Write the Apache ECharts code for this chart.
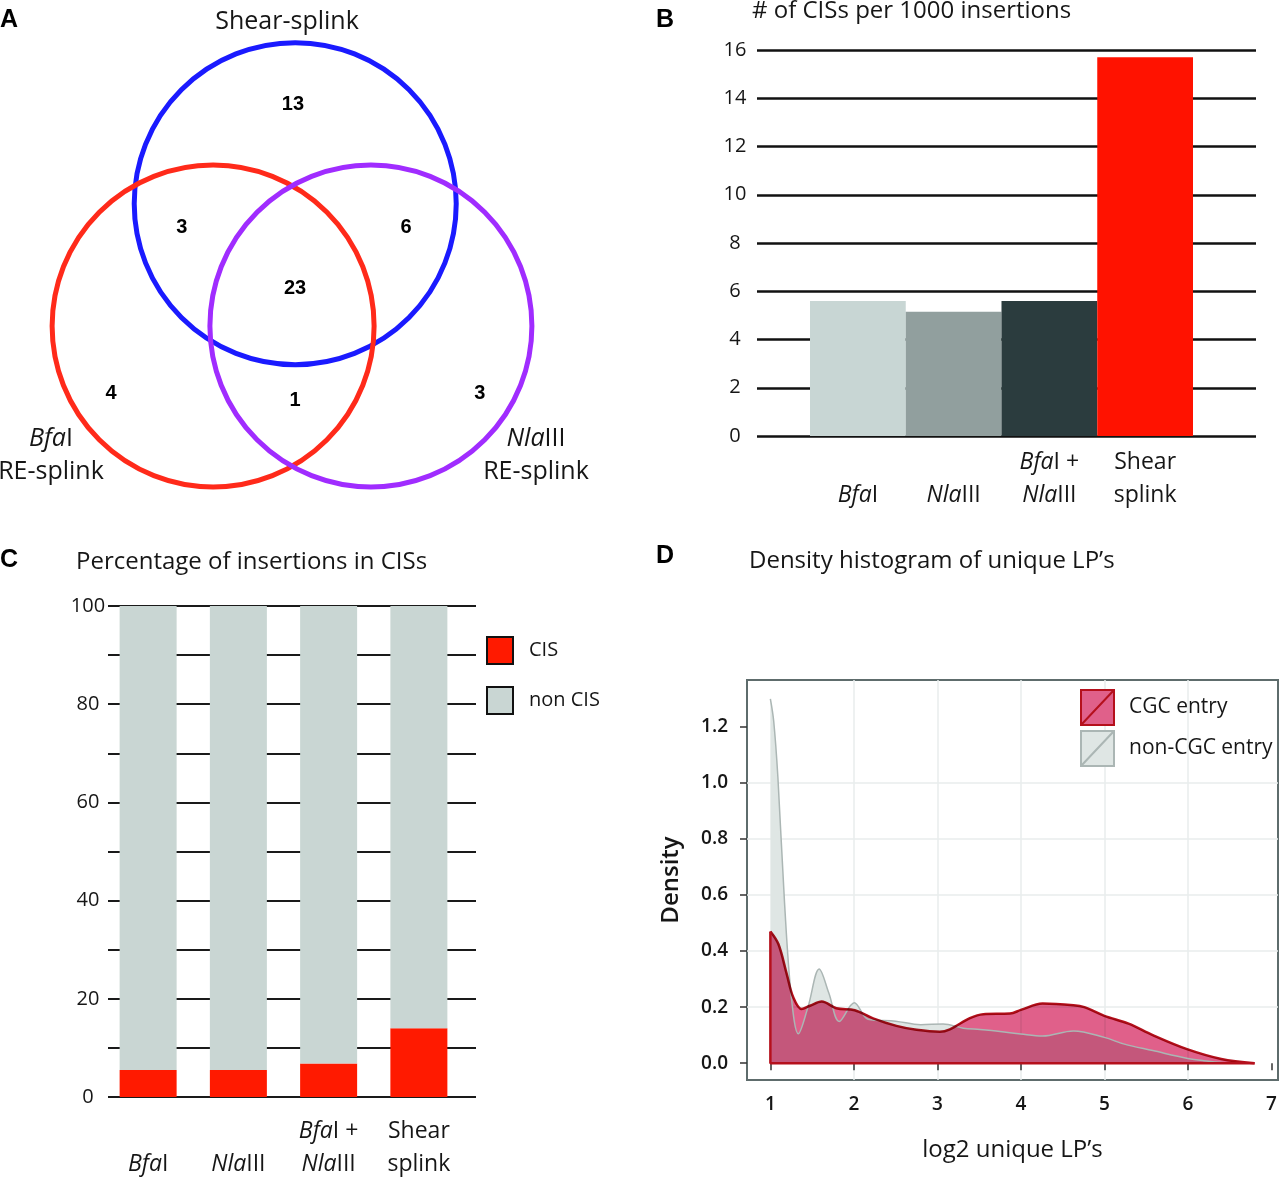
<!DOCTYPE html>
<html>
<head>
<meta charset="utf-8">
<script src="https://cdn.jsdelivr.net/npm/echarts@6/dist/echarts.min.js"></script>
<style>
  html, body { margin: 0; padding: 0; background: #fff; }
  #main { width: 1280px; height: 1183px; }
</style>
</head>
<body>
<div id="main"></div>
<script>
// panel A - venn (abstract units, circle radius = 1)
var vennSets = ['Shear-splink', 'BfaI RE-splink', 'NlaIII RE-splink'];
var vennCenterX = [0.02, -0.49, 0.49];
var vennCenterY = [0.76, 0, 0];
var vennRadius = [1, 1, 1];
var vennCounts = [13, 3, 6, 23, 4, 1, 3];
var vennCountX = [0.006, -0.684, 0.708, 0.019, -1.124, 0.019, 1.167];
var vennCountY = [1.373, 0.609, 0.609, 0.236, -0.422, -0.460, -0.422];

// panels B and C
var methods = ['BfaI', 'NlaIII', 'BfaI + NlaIII', 'Shear splink'];
var methodLabels = ['{i|Bfa}I', '{i|Nla}III', '{i|Bfa}I +\n{i|Nla}III', 'Shear\nsplink'];
var cisPer1000 = [5.6, 5.15, 5.6, 15.7];
var cisPercent = [5.5, 5.5, 6.8, 14.0];
var nonCisPercent = [94.5, 94.5, 93.2, 86.0];

// panel D - density curves [log2 unique LP's, density]
var nonCgcDensity = [
    [1.00, 1.30], [1.04, 1.22], [1.09, 1.02], [1.17, 0.57], [1.25, 0.24],
    [1.335, 0.105], [1.45, 0.20], [1.585, 0.336], [1.70, 0.25], [1.825, 0.149],
    [2.005, 0.216], [2.17, 0.157], [2.50, 0.15], [2.80, 0.137], [3.07, 0.14],
    [3.31, 0.125], [3.51, 0.12], [3.75, 0.113], [4.00, 0.104], [4.26, 0.097],
    [4.63, 0.115], [5.00, 0.092], [5.24, 0.068], [5.58, 0.045], [6.00, 0.017],
    [6.19, 0.009], [6.50, 0.0]
];
var cgcDensity = [
    [1.00, 0.47], [1.096, 0.425], [1.196, 0.318], [1.275, 0.234], [1.375, 0.193],
    [1.475, 0.205], [1.615, 0.22], [1.79, 0.196], [2.01, 0.189], [2.23, 0.16],
    [2.51, 0.133], [2.75, 0.119], [3.03, 0.112], [3.15, 0.121], [3.39, 0.161],
    [3.55, 0.175], [3.87, 0.177], [4.00, 0.19], [4.26, 0.213], [4.63, 0.207],
    [4.76, 0.20], [5.00, 0.169], [5.29, 0.141], [5.58, 0.10], [5.99, 0.05],
    [6.40, 0.015], [6.80, 0.0]
];
var densityXTicks = [1, 2, 3, 4, 5, 6, 7];
var densityYTicks = [0, 0.2, 0.4, 0.6, 0.8, 1.0, 1.2];

var FONT = '"Open Sans", "Noto Sans", sans-serif';
var ARIAL = '"Liberation Sans", Arial, sans-serif';
var INK = '#161616';
var vennColors = ['#1a1aff', '#ff2a1a', '#a02cff'];
var barBColors = ['#c8d6d4', '#919f9e', '#2b3c3e', '#ff1200'];

var myChart = echarts.init(document.getElementById('main'));

// red series outline: left edge + baseline, taken from the curve ends
var cgcEdge = [
    [cgcDensity[cgcDensity.length - 1][0], 0],
    [cgcDensity[0][0], 0],
    cgcDensity[0]
];

var catLabel = function (margin) {
    return {
        interval: 0,
        margin: margin,
        verticalAlign: 'bottom',
        color: INK,
        fontFamily: FONT,
        fontSize: 23,
        fontWeight: 500,
        lineHeight: 33,
        formatter: function (v, i) { return methodLabels[i]; },
        rich: { i: { fontStyle: 'italic', fontFamily: FONT, fontSize: 23, fontWeight: 500, lineHeight: 33, color: INK } }
    };
};

var option = {
    animation: false,
    backgroundColor: '#fff',
    textStyle: { fontFamily: FONT },
    grid: [
        { left: 0, top: 0, width: 600, height: 500 },            // A
        { left: 757, top: 50, width: 499, height: 386 },         // B lines
        { left: 810, top: 50, width: 383, height: 386 },         // B bars
        { left: 108, top: 606, width: 368, height: 491 },        // C lines
        { left: 103, top: 606, width: 361, height: 491 },        // C bars
        { left: 747, top: 680, width: 531, height: 400, show: true,
          backgroundColor: '#fff', borderColor: '#5e6c6c', borderWidth: 2 }  // D
    ],
    xAxis: [
        { gridIndex: 0, type: 'value', min: -1.8137, max: 1.9130, show: false },
        { gridIndex: 1, type: 'value', show: false },
        { gridIndex: 2, type: 'category', data: methods,
          axisLine: { show: false }, axisTick: { show: false }, axisLabel: catLabel(76) },
        { gridIndex: 3, type: 'value', show: false },
        { gridIndex: 4, type: 'category', data: methods,
          axisLine: { show: false }, axisTick: { show: false }, axisLabel: catLabel(84) },
        { gridIndex: 5, type: 'value', min: 0.72, max: 7.08, splitNumber: 6,
          name: 'log2 unique LP\u2019s', nameLocation: 'middle', nameGap: 58,
          nameTextStyle: { fontSize: 24, fontWeight: 500, color: INK, fontFamily: FONT },
          axisLine: { show: false },
          axisTick: { show: true, length: 7, customValues: densityXTicks, lineStyle: { color: '#333', width: 1.5 } },
          axisLabel: { customValues: densityXTicks, margin: 15, fontSize: 19, fontWeight: 600, color: INK },
          splitLine: { show: true, showMinLine: false, showMaxLine: false, lineStyle: { color: '#e8eded', width: 1.5 } } }
    ],
    yAxis: [
        { gridIndex: 0, type: 'value', min: -1.0807, max: 2.0248, show: false },
        { gridIndex: 1, type: 'value', min: 0, max: 16, interval: 2,
          axisLine: { show: false }, axisTick: { show: false },
          axisLabel: { margin: 22, align: 'center', fontSize: 20, fontWeight: 500, color: INK },
          splitLine: { lineStyle: { color: '#111', width: 2.5 } } },
        { gridIndex: 2, type: 'value', min: 0, max: 16, show: false },
        { gridIndex: 3, type: 'value', min: 0, max: 100, interval: 10,
          axisLine: { show: false }, axisTick: { show: false },
          axisLabel: { margin: 20, align: 'center', fontSize: 20, fontWeight: 500, color: INK,
                       formatter: function (v) { return v % 20 === 0 ? v : ''; } },
          splitLine: { lineStyle: { color: '#1a1a1a', width: 2 } } },
        { gridIndex: 4, type: 'value', min: 0, max: 100, show: false },
        { gridIndex: 5, type: 'value', min: -0.06, max: 1.367, splitNumber: 7,
          name: 'Density', nameLocation: 'middle', nameGap: 64, nameRotate: 90,
          nameTextStyle: { fontSize: 24, fontWeight: 600, color: INK, fontFamily: FONT },
          axisLine: { show: false },
          axisTick: { show: true, length: 7, customValues: densityYTicks, lineStyle: { color: '#333', width: 1.5 } },
          axisLabel: { customValues: densityYTicks, margin: 19, fontSize: 19, fontWeight: 600, color: INK,
                       formatter: function (v) { return v.toFixed(1); } },
          splitLine: { show: true, showMinLine: false, showMaxLine: false, lineStyle: { color: '#e8eded', width: 1.5 } } }
    ],
    legend: [
        { data: ['CIS', 'non CIS'], orient: 'vertical', left: 486, top: 636, padding: 0,
          itemWidth: 26, itemHeight: 27, itemGap: 21, icon: 'rect', selectedMode: false,
          itemStyle: { borderColor: '#111', borderWidth: 2 },
          textStyle: { fontSize: 20, fontWeight: 500, color: INK, fontFamily: FONT, padding: [11, 0, 0, 11] } },
        { data: [
            { name: 'CGC entry', icon: 'path://M0,0H33V35H0Z M0,35L33,0',
              itemStyle: { color: '#e0608a', borderColor: '#b5101c', borderWidth: 2 } },
            { name: 'non-CGC entry', icon: 'path://M0,0H33V35H0Z M0,35L33,0',
              itemStyle: { color: '#dfe6e4', borderColor: '#abb6b4', borderWidth: 2 } }
          ],
          orient: 'vertical', left: 1080, top: 689, padding: 0, itemWidth: 33, itemHeight: 35, itemGap: 4,
          selectedMode: false,
          textStyle: { fontSize: 21, fontWeight: 500, color: INK, fontFamily: FONT, padding: [0, 0, 2, 10] } }
    ],
    series: [
        {
            name: 'venn',
            type: 'custom',
            xAxisIndex: 0, yAxisIndex: 0,
            data: vennSets.map(function (s, i) {
                return [vennCenterX[i], vennCenterY[i], vennRadius[i]];
            }),
            renderItem: function (params, api) {
                var c = api.coord([api.value(0), api.value(1)]);
                var r = api.size([api.value(2), 0])[0];
                return {
                    type: 'circle',
                    shape: { cx: c[0], cy: c[1], r: r },
                    style: { fill: 'none', stroke: vennColors[params.dataIndex], lineWidth: 5 }
                };
            }
        },
        {
            name: 'counts',
            type: 'custom',
            xAxisIndex: 0, yAxisIndex: 0,
            data: vennCounts.map(function (n, i) { return [vennCountX[i], vennCountY[i], n]; }),
            renderItem: function (params, api) {
                var c = api.coord([api.value(0), api.value(1)]);
                return {
                    type: 'text',
                    x: c[0], y: c[1],
                    style: { text: String(api.value(2)), fill: '#000',
                             font: 'bold 20px "Liberation Sans", Arial, sans-serif',
                             align: 'center', verticalAlign: 'middle' }
                };
            }
        },
        {
            name: 'CIS per 1000',
            type: 'bar',
            xAxisIndex: 2, yAxisIndex: 2,
            barCategoryGap: '0%',
            itemStyle: { color: function (p) { return barBColors[p.dataIndex]; } },
            data: cisPer1000
        },
        {
            name: 'CIS',
            type: 'bar',
            stack: 'pct',
            xAxisIndex: 4, yAxisIndex: 4,
            barWidth: 57,
            itemStyle: { color: '#ff1a00' },
            data: cisPercent
        },
        {
            name: 'non CIS',
            type: 'bar',
            stack: 'pct',
            xAxisIndex: 4, yAxisIndex: 4,
            barWidth: 57,
            itemStyle: { color: '#c9d6d3' },
            data: nonCisPercent
        },
        {
            name: 'non-CGC entry',
            type: 'line',
            xAxisIndex: 5, yAxisIndex: 5,
            smooth: 0.35,
            showSymbol: false,
            lineStyle: { color: '#abb6b4', width: 1.5 },
            itemStyle: { color: '#dfe6e4' },
            areaStyle: { color: '#dfe6e4', opacity: 1 },
            data: nonCgcDensity
        },
        {
            name: 'CGC entry',
            type: 'line',
            xAxisIndex: 5, yAxisIndex: 5,
            smooth: 0.35,
            showSymbol: false,
            blendMode: 'multiply',
            lineStyle: { color: '#b5101c', width: 2.5 },
            itemStyle: { color: '#e0608a' },
            areaStyle: { color: '#e0608a', opacity: 1 },
            data: cgcDensity
        },
        {
            name: 'CGC edge',
            type: 'line',
            xAxisIndex: 5, yAxisIndex: 5,
            showSymbol: false,
            lineStyle: { color: '#b5101c', width: 2.5 },
            data: cgcEdge
        }
    ],
    graphic: [
        { type: 'text', x: 0, y: 20, style: { text: 'A', fontSize: 25, fontWeight: 'bold', fontFamily: ARIAL, fill: '#000', verticalAlign: 'middle' } },
        { type: 'text', x: 656, y: 20, style: { text: 'B', fontSize: 25, fontWeight: 'bold', fontFamily: ARIAL, fill: '#000', verticalAlign: 'middle' } },
        { type: 'text', x: 0, y: 560, style: { text: 'C', fontSize: 25, fontWeight: 'bold', fontFamily: ARIAL, fill: '#000', verticalAlign: 'middle' } },
        { type: 'text', x: 656, y: 556, style: { text: 'D', fontSize: 25, fontWeight: 'bold', fontFamily: ARIAL, fill: '#000', verticalAlign: 'middle' } },
        { type: 'text', x: 752, y: 11, style: { text: '# of CISs per 1000 insertions', fontSize: 24, fontWeight: 500, fontFamily: FONT, fill: INK, verticalAlign: 'middle' } },
        { type: 'text', x: 76, y: 562, style: { text: 'Percentage of insertions in CISs', fontSize: 24, fontWeight: 500, fontFamily: FONT, fill: INK, verticalAlign: 'middle' } },
        { type: 'text', x: 749, y: 561, style: { text: 'Density histogram of unique LP\u2019s', fontSize: 24, fontWeight: 500, fontFamily: FONT, fill: INK, verticalAlign: 'middle' } },
        { type: 'text', x: 287, y: 22, style: { text: 'Shear-splink', fontSize: 25, fontWeight: 500, fontFamily: FONT, fill: INK, align: 'center', verticalAlign: 'middle' } },
        { type: 'text', x: 51, y: 455, style: { text: '{i|Bfa}I\nRE-splink', fontSize: 25, fontWeight: 500, lineHeight: 33, fontFamily: FONT, fill: INK, align: 'center', verticalAlign: 'middle',
            rich: { i: { fontStyle: 'italic', fontSize: 25, fontWeight: 500, lineHeight: 33, fontFamily: FONT, fill: INK } } } },
        { type: 'text', x: 536, y: 455, style: { text: '{i|Nla}III\nRE-splink', fontSize: 25, fontWeight: 500, lineHeight: 33, fontFamily: FONT, fill: INK, align: 'center', verticalAlign: 'middle',
            rich: { i: { fontStyle: 'italic', fontSize: 25, fontWeight: 500, lineHeight: 33, fontFamily: FONT, fill: INK } } } }
    ]
};

myChart.setOption(option);
</script>
</body>
</html>
